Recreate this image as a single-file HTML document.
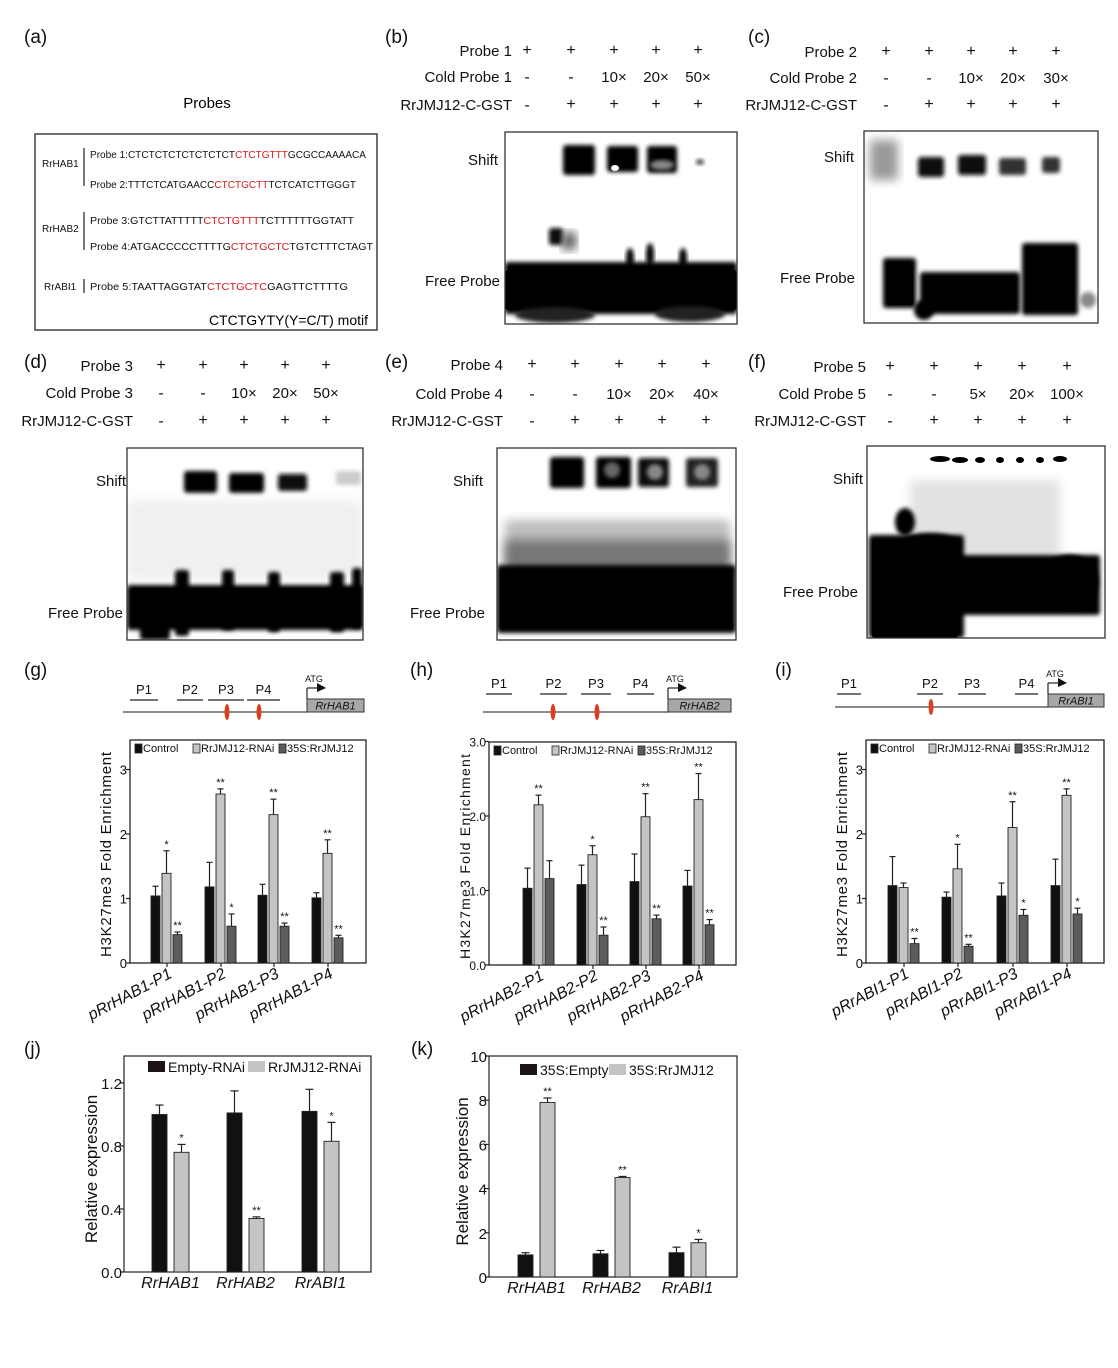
<!DOCTYPE html>
<html><head><meta charset="utf-8"><style>
html,body{margin:0;padding:0;background:#fff}
svg{display:block;font-family:"Liberation Sans",Arial,sans-serif}
</style></head><body>
<svg id="s" width="1118" height="1368" viewBox="0 0 1118 1368" xmlns="http://www.w3.org/2000/svg">
<defs>
<filter id="bl" x="-20%" y="-20%" width="140%" height="140%"><feGaussianBlur stdDeviation="2.2"/></filter>
<filter id="bl2" x="-20%" y="-20%" width="140%" height="140%"><feGaussianBlur stdDeviation="5"/></filter>
<clipPath id="cb"><rect x="505" y="132" width="232" height="192"/></clipPath>
<clipPath id="cc"><rect x="864" y="131" width="234" height="192"/></clipPath>
<clipPath id="cd"><rect x="127" y="448" width="236" height="192"/></clipPath>
<clipPath id="ce"><rect x="497" y="448" width="239" height="192"/></clipPath>
<clipPath id="cf"><rect x="867" y="446" width="238" height="192"/></clipPath>
</defs>
<g font-size="19" fill="#111">
<text x="24" y="43">(a)</text><text x="385" y="43">(b)</text><text x="748" y="43">(c)</text>
<text x="24" y="368">(d)</text><text x="385" y="368">(e)</text><text x="748" y="368">(f)</text>
<text x="24" y="676">(g)</text><text x="410" y="676">(h)</text><text x="775" y="676">(i)</text>
<text x="24" y="1055">(j)</text><text x="411" y="1055">(k)</text>
</g>
<text x="207" y="108" font-size="15" text-anchor="middle">Probes</text>
<rect x="35" y="134" width="342" height="196" fill="none" stroke="#222" stroke-width="1.3"/>
<g font-size="10" fill="#111">
<text x="42" y="167">RrHAB1</text>
<line x1="84" y1="148" x2="84" y2="186" stroke="#222" stroke-width="1.2"/>
<text x="90" y="158" textLength="276" lengthAdjust="spacingAndGlyphs">Probe 1:CTCTCTCTCTCTCTCT<tspan fill="#d21a1a">CTCTGTTT</tspan>GCGCCAAAACA</text>
<text x="90" y="188" textLength="266" lengthAdjust="spacingAndGlyphs">Probe 2:TTTCTCATGAACC<tspan fill="#d21a1a">CTCTGCTT</tspan>TCTCATCTTGGGT</text>
<text x="42" y="232">RrHAB2</text>
<line x1="84" y1="212" x2="84" y2="250" stroke="#222" stroke-width="1.2"/>
<text x="90" y="224" textLength="264" lengthAdjust="spacingAndGlyphs">Probe 3:GTCTTATTTTT<tspan fill="#d21a1a">CTCTGTTT</tspan>TCTTTTTTGGTATT</text>
<text x="90" y="250" textLength="283" lengthAdjust="spacingAndGlyphs">Probe 4:ATGACCCCCTTTTG<tspan fill="#d21a1a">CTCTGCTC</tspan>TGTCTTTCTAGT</text>
<text x="44" y="290">RrABI1</text>
<line x1="84" y1="279" x2="84" y2="293" stroke="#222" stroke-width="1.2"/>
<text x="90" y="290" textLength="258" lengthAdjust="spacingAndGlyphs">Probe 5:TAATTAGGTAT<tspan fill="#d21a1a">CTCTGCTC</tspan>GAGTTCTTTTG</text>
</g>
<text x="368" y="325" font-size="14" text-anchor="end">CTCTGYTY(Y=C/T) motif</text>
<g id="charts"></g>
</svg>
<script>
var out='';
function T(x,y,t,o){o=o||{};out+='<text x="'+x+'" y="'+y+'" font-size="'+(o.fs||15)+'"'+(o.a?' text-anchor="'+o.a+'"':'')+(o.it?' font-style="italic"':'')+(o.tl?' textLength="'+o.tl+'"':'')+(o.tr?' transform="'+o.tr+'"':'')+(o.fill?' fill="'+o.fill+'"':' fill="#111"')+'>'+t+'</text>';}
function R(x,y,w,h,f,o){o=o||'';out+='<rect x="'+x+'" y="'+y+'" width="'+w+'" height="'+h+'" fill="'+f+'" '+o+'/>';}
function L(x1,y1,x2,y2,w,c){out+='<line x1="'+x1+'" y1="'+y1+'" x2="'+x2+'" y2="'+y2+'" stroke="'+(c||'#222')+'" stroke-width="'+(w||1)+'"/>';}
function hdr(rx,ys,labels,cols,vals){
 for(var r=0;r<3;r++){T(rx,ys[r],labels[r],{a:'end',fs:15});
  for(var c=0;c<5;c++){var v=vals[r][c];T(cols[c],ys[r]-(v=='+'?1:0),v,{a:'middle',fs:v=='+'||v=='-'?16:15,fill:'#111'});}}
}
var pm=[['+','+','+','+','+'],null,['-','+','+','+','+']];
function v2(a){return [pm[0],['-','-'].concat(a),pm[2]];}
hdr(512,[56,82,110],['Probe 1','Cold Probe 1','RrJMJ12-C-GST'],[527,571,614,656,698],v2(['10×','20×','50×']));
hdr(857,[57,83,110],['Probe 2','Cold Probe 2','RrJMJ12-C-GST'],[886,929,971,1013,1056],v2(['10×','20×','30×']));
hdr(133,[371,398,426],['Probe 3','Cold Probe 3','RrJMJ12-C-GST'],[161,203,244,285,326],v2(['10×','20×','50×']));
hdr(503,[370,399,426],['Probe 4','Cold Probe 4','RrJMJ12-C-GST'],[532,575,619,662,706],v2(['10×','20×','40×']));
hdr(866,[372,399,426],['Probe 5','Cold Probe 5','RrJMJ12-C-GST'],[890,934,978,1022,1067],v2(['5×','20×','100×']));
T(498,165,'Shift',{a:'end'});T(500,286,'Free Probe',{a:'end'});
T(854,162,'Shift',{a:'end'});T(855,283,'Free Probe',{a:'end'});
T(126,486,'Shift',{a:'end'});T(123,618,'Free Probe',{a:'end'});
T(483,486,'Shift',{a:'end'});T(485,618,'Free Probe',{a:'end'});
T(863,484,'Shift',{a:'end'});T(858,597,'Free Probe',{a:'end'});
function E(cx,cy,rx,ry,f,filt){out+='<ellipse cx="'+cx+'" cy="'+cy+'" rx="'+rx+'" ry="'+ry+'" fill="'+f+'"'+(filt?' filter="url(#'+filt+')"':'')+'/>';}
function B(x,y,w,h,f,filt,rr){out+='<rect x="'+x+'" y="'+y+'" width="'+w+'" height="'+h+'" rx="'+(rr||3)+'" fill="'+f+'"'+(filt?' filter="url(#'+filt+')"':'')+'/>';}
out+='<g clip-path="url(#cb)">';
B(563,145,32,30,'#000','bl');B(607,146,31,26,'#000','bl');B(647,146,30,27,'#000','bl');E(615,168,4,3,'#fff','');E(662,165,12,5,'#888','bl');
E(700,162,4,3,'#444','bl');
B(549,228,14,17,'#111','bl');B(562,232,14,18,'#555','bl2');
B(505,262,232,52,'#000','bl');B(505,270,232,40,'#000','');
E(630,258,4,10,'#000','bl');E(650,255,4,12,'#000','bl');E(683,258,4,10,'#000','bl');E(555,315,40,8,'#222','bl');E(690,314,35,8,'#222','bl');
out+='</g><rect x="505" y="132" width="232" height="192" fill="none" stroke="#333" stroke-width="1.3"/>';
out+='<g clip-path="url(#cc)">';
B(870,140,28,40,'#999','bl2');B(918,157,26,20,'#111','bl');B(958,155,28,20,'#111','bl');B(999,158,27,17,'#333','bl');B(1042,157,18,16,'#333','bl');
B(883,258,33,50,'#000','bl');B(920,272,100,42,'#000','bl');B(1022,243,56,72,'#000','bl');B(1030,255,42,55,'#000','');
B(887,265,26,40,'#000','');E(924,310,10,10,'#000','bl');E(1088,300,8,8,'#888','bl');
out+='</g><rect x="864" y="131" width="234" height="192" fill="none" stroke="#333" stroke-width="1.3"/>';
out+='<g clip-path="url(#cd)">';
B(184,471,33,22,'#000','bl');B(229,473,35,20,'#000','bl');B(278,474,29,17,'#111','bl');B(336,471,25,14,'#ccc','bl');
B(127,500,236,80,'#f0f0f0','bl2');
B(127,585,236,45,'#000','bl');B(131,588,228,38,'#000','');
B(175,570,14,66,'#000','bl');B(222,570,12,60,'#000','bl');B(268,572,12,60,'#000','bl');B(330,572,14,60,'#000','bl');B(352,568,10,60,'#000','bl');
B(140,620,30,20,'#000','bl');
out+='</g><rect x="127" y="448" width="236" height="192" fill="none" stroke="#333" stroke-width="1.3"/>';
out+='<g clip-path="url(#ce)">';
B(550,457,34,31,'#000','bl');B(596,457,35,31,'#000','bl');B(638,458,31,29,'#111','bl');B(686,458,32,29,'#222','bl');
E(612,470,8,8,'#666','bl');E(655,472,8,8,'#888','bl');E(702,472,8,8,'#888','bl');
B(505,520,225,50,'#bbb','bl2');B(505,540,225,35,'#777','bl2');
B(497,565,239,68,'#000','bl');B(500,570,232,58,'#000','');
out+='</g><rect x="497" y="448" width="239" height="192" fill="none" stroke="#333" stroke-width="1.3"/>';
out+='<g clip-path="url(#cf)">';
[[940,459,10],[960,460,8],[980,460,5],[1000,460,4],[1020,460,4],[1040,460,4],[1060,459,7]].forEach(function(a){E(a[0],a[1],a[2],3,'#000','');});
B(910,480,150,80,'#e2e2e2','bl2');
B(869,535,95,103,'#000','bl');B(872,540,86,98,'#000','');E(905,522,10,14,'#000','bl');
B(930,555,170,60,'#000','bl');B(935,560,160,50,'#000','');E(1070,582,28,27,'#000','bl');
E(930,545,30,12,'#000','bl');
out+='</g><rect x="867" y="446" width="238" height="192" fill="none" stroke="#333" stroke-width="1.3"/>';

var C1='#111',C2='#c4c4c4',C3='#5c5c5c';
function chip(o){
 var ax=o.ax,ay=o.ay,ax2=o.ax2,ay2=o.ay2,ppu=o.ppu;
 out+='<rect x="'+ax+'" y="'+ay+'" width="'+(ax2-ax)+'" height="'+(ay2-ay)+'" fill="none" stroke="#222" stroke-width="1.3"/>';
 o.ticks.forEach(function(t){var y=ay2-t[0]*ppu;L(ax-4,y,ax,y,1.2);T(ax-3,y+5,t[1],{a:'end',fs:o.tfs||13});});
 var lx=ax+5,ly=ay+12;
 R(lx,ly-8,7,9,C1,'stroke="#222" stroke-width="0.8"');T(lx+8,ly,'Control',{fs:11});
 R(lx+58,ly-8,7,9,C2,'stroke="#222" stroke-width="0.8"');T(lx+66,ly,'RrJMJ12-RNAi',{fs:11});
 R(lx+144,ly-8,7,9,C3,'stroke="#222" stroke-width="0.8"');T(lx+152,ly,'35S:RrJMJ12',{fs:11});
 o.groups.forEach(function(g,i){var gx=o.gx[i];var cols=[C1,C2,C3];
  for(var k=0;k<3;k++){var x=gx+k*11,v=g[k][0],e=g[k][1],h=v*ppu,y=ay2-h;
   L(x+4.5,y,x+4.5,y-e*ppu,1.2);L(x+1.5,y-e*ppu,x+7.5,y-e*ppu,1.2);
   R(x,y,9,h,cols[k],'stroke="#222" stroke-width="0.9"');
   if(g[k][2])T(x+4.5,y-e*ppu-3,g[k][2],{a:'middle',fs:11});}
  var cx=gx+16;L(cx,ay2,cx,ay2+4,1.2);
  T(cx+6,ay2+14,o.lab+(i+1),{a:'end',fs:16,it:1,tr:'rotate(-28 '+(cx+6)+' '+(ay2+14)+')'});
 });
 T(0,0,'H3K27me3  Fold  Enrichment',{a:'middle',fs:o.lfs||15,tl:205,tr:'translate('+o.yl+' '+((ay+ay2)/2+3)+') rotate(-90)'});
}
chip({ax:130,ay:740,ax2:366,ay2:963,ppu:64.5,ticks:[[0,'0'],[1,'1'],[2,'2'],[3,'3']],gx:[151,205,258,312],lab:'pRrHAB1-P',yl:111,
 groups:[[[1.04,0.15],[1.39,0.35,'*'],[0.44,0.04,'**']],[[1.18,0.38],[2.62,0.08,'**'],[0.57,0.19,'*']],[[1.05,0.17],[2.3,0.24,'**'],[0.57,0.05,'**']],[[1.01,0.08],[1.7,0.21,'**'],[0.39,0.04,'**']]]});
chip({ax:489,ay:742,ax2:736,ay2:965,ppu:74.5,tfs:12,lfs:14,ticks:[[0,'0.0'],[1,'1.0'],[2,'2.0'],[3,'3.0']],gx:[523,577,630,683],lab:'pRrHAB2-P',yl:470,
 groups:[[[1.03,0.27],[2.15,0.13,'**'],[1.16,0.24]],[[1.08,0.26],[1.48,0.12,'*'],[0.4,0.11,'**']],[[1.12,0.37],[1.99,0.31,'**'],[0.62,0.05,'**']],[[1.06,0.21],[2.22,0.35,'**'],[0.54,0.07,'**']]]});
chip({ax:866,ay:740,ax2:1104,ay2:963,ppu:64.5,ticks:[[0,'0'],[1,'1'],[2,'2'],[3,'3']],gx:[888,942,997,1051],lab:'pRrABI1-P',yl:847,
 groups:[[[1.2,0.45],[1.17,0.07],[0.3,0.08,'**']],[[1.02,0.08],[1.46,0.38,'*'],[0.26,0.03,'**']],[[1.04,0.2],[2.1,0.4,'**'],[0.74,0.09,'*']],[[1.2,0.41],[2.6,0.1,'**'],[0.76,0.09,'*']]]});
function gene(o){
 o.p.forEach(function(p){L(p[1],p[3],p[2],p[3],1.2);T((p[1]+p[2])/2,p[3]-6,p[0],{a:'middle',fs:13});});
 L(o.x1,o.y,o.bx,o.y,1.3,'#444');
 R(o.bx,o.y-13,o.bw,13,'#a8a8a8','stroke="#333" stroke-width="1"');
 T(o.bx+o.bw/2,o.y-2.5,o.name,{a:'middle',fs:11,it:1});
 L(o.bx,o.y-13,o.bx,o.y-24,1.2);L(o.bx,o.y-24,o.bx+12,o.y-24,1.2);
 out+='<polygon points="'+(o.bx+10)+','+(o.y-29)+' '+(o.bx+19)+','+(o.y-24)+' '+(o.bx+10)+','+(o.y-20)+'" fill="#111"/>';
 T(o.bx+7,o.y-30,'ATG',{a:'middle',fs:9});
 o.ov.forEach(function(x){E(x,o.y,2.5,8,'#d8401f','');});
}
gene({x1:123,y:712,bx:307,bw:57,name:'RrHAB1',ov:[227,259],p:[['P1',130,158,700],['P2',177,203,700],['P3',208,244,700],['P4',247,280,700]]});
gene({x1:483,y:712,bx:668,bw:63,name:'RrHAB2',ov:[553,597],p:[['P1',486,512,694],['P2',540,567,694],['P3',581,611,694],['P4',627,654,694]]});
gene({x1:835,y:707,bx:1048,bw:56,name:'RrABI1',ov:[931],p:[['P1',837,861,694],['P2',917,943,694],['P3',958,986,694],['P4',1015,1038,694]]});
function rel(o){
 out+='<rect x="'+o.ax+'" y="'+o.ay+'" width="'+(o.ax2-o.ax)+'" height="'+(o.ay2-o.ay)+'" fill="none" stroke="#222" stroke-width="1.2"/>';
 o.ticks.forEach(function(t){var y=o.ay2-t[0]*o.ppu;L(o.ax-4,y,o.ax,y,1.2);T(o.ax-2,y+6,t[1],{a:'end',fs:15});});
 R(o.lg[0],o.lg[1],17,11,'#1c1414');T(o.lg[0]+20,o.lg[1]+11,o.ln[0],{fs:14});
 R(o.lg[2],o.lg[1],17,11,'#c4c4c4');T(o.lg[2]+20,o.lg[1]+11,o.ln[1],{fs:14});
 o.bars.forEach(function(b,i){
  [[b[0],b[1],'#111'],[b[2],b[3],'#c4c4c4']].forEach(function(q,k){var v=q[0],e=q[1],x=o.gx[i]+k*o.off,h=v*o.ppu,y=o.ay2-h;
   L(x+o.bw/2,y,x+o.bw/2,y-e*o.ppu,1.2);L(x+o.bw/2-4,y-e*o.ppu,x+o.bw/2+4,y-e*o.ppu,1.2);
   R(x,y,o.bw,h,q[2],'stroke="#222" stroke-width="0.9"');
   if(k==1&&b[4])T(x+o.bw/2,y-e*o.ppu-3,b[4],{a:'middle',fs:11});});
  T(o.gx[i]+o.off/2+o.bw/2,o.ay2+16,o.names[i],{a:'middle',fs:16,it:1});
 });
 T(0,0,'Relative expression',{a:'middle',fs:17,tr:'translate('+o.yl+' '+((o.ay+o.ay2)/2+5)+') rotate(-90)'});
}
rel({ax:124,ay:1056,ax2:371,ay2:1272,ppu:157.5,ticks:[[0,'0.0'],[0.4,'0.4'],[0.8,'0.8'],[1.2,'1.2']],lg:[148,1061,248],ln:['Empty-RNAi','RrJMJ12-RNAi'],
 gx:[152,227,302],off:22,bw:15,names:['RrHAB1','RrHAB2','RrABI1'],yl:97,
 bars:[[1.0,0.06,0.76,0.05,'*'],[1.01,0.14,0.34,0.01,'**'],[1.02,0.14,0.83,0.12,'*']]});
rel({ax:489,ay:1056,ax2:737,ay2:1277,ppu:22.1,ticks:[[0,'0'],[2,'2'],[4,'4'],[6,'6'],[8,'8'],[10,'10']],lg:[520,1064,609],ln:['35S:Empty','35S:RrJMJ12'],
 gx:[518,593,669],off:22,bw:15,names:['RrHAB1','RrHAB2','RrABI1'],yl:468,
 bars:[[1.0,0.1,7.9,0.2,'**'],[1.05,0.15,4.5,0.05,'**'],[1.1,0.25,1.55,0.15,'*']]});
document.getElementById('charts').innerHTML=out;
</script>
</body></html>
